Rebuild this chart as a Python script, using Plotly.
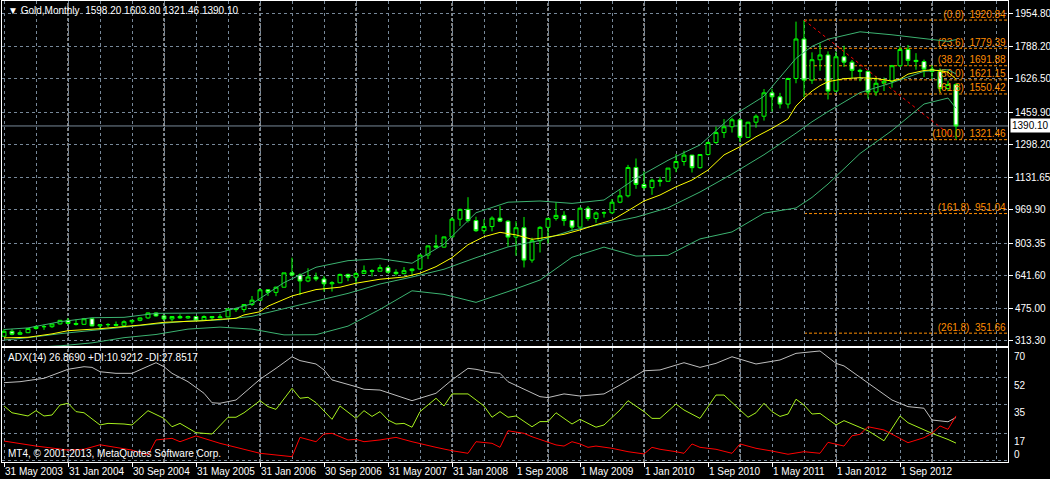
"""
Gold, Monthly - MT4 스타일 캔들 차트 + 볼린저밴드 + ADX(14)
"""

import pandas as pd
import plotly.graph_objects as go
from plotly.subplots import make_subplots

# 월봉 데이터 (May 2003 .. Apr 2013)
opens = [336, 361, 346, 354, 375, 385, 384, 398, 416, 400, 396, 424, 388, 394, 395, 391, 409, 416, 428, 453,
         438, 423, 435, 428, 435, 417, 435, 429, 433, 473, 470, 495, 517, 569, 556, 582, 654, 643, 613, 633,
         623, 599, 604, 646, 632, 651, 665, 662, 680, 657, 650, 665, 673, 743, 789, 783, 834, 923, 972, 916,
         865, 886, 928, 913, 833, 880, 718, 815, 882, 927, 942, 916, 883, 978, 926, 954, 955, 1008, 1040, 1182,
         1097, 1081, 1118, 1113, 1179, 1212, 1244, 1181, 1247, 1307, 1357, 1386, 1421, 1333, 1409, 1439, 1556, 1536, 1500, 1628,
         1826, 1620, 1722, 1746, 1565, 1737, 1710, 1669, 1664, 1560, 1604, 1614, 1692, 1773, 1719, 1713, 1675, 1663, 1578, 1598.20]
highs = [373, 372, 366, 377, 391, 394, 400, 417, 428, 420, 428, 427, 395, 402, 410, 416, 418, 430, 455, 456,
         438, 437, 446, 439, 436, 441, 437, 447, 474, 478, 497, 538, 570, 573, 585, 654, 730, 651, 677, 655,
         639, 612, 650, 650, 657, 691, 672, 695, 690, 672, 683, 676, 745, 790, 845, 836, 933, 976, 1033, 935,
         923, 937, 988, 918, 913, 934, 830, 888, 930, 1007, 963, 918, 981, 989, 961, 962, 1024, 1070, 1195, 1227,
         1162, 1126, 1135, 1179, 1249, 1266, 1245, 1248, 1313, 1387, 1425, 1431, 1424, 1411, 1448, 1575, 1577, 1556, 1632, 1913,
         1920.84, 1759, 1804, 1764, 1763, 1792, 1721, 1677, 1668, 1640, 1633, 1696, 1790, 1796, 1755, 1723, 1694, 1679, 1617, 1603.80]
lows = [336, 341, 342, 352, 369, 368, 378, 395, 397, 390, 393, 386, 372, 383, 386, 391, 398, 411, 423, 434,
        418, 411, 424, 423, 414, 414, 418, 429, 432, 458, 456, 488, 513, 538, 537, 581, 636, 542, 607, 612,
        560, 560, 602, 612, 603, 651, 636, 662, 651, 640, 647, 645, 670, 723, 776, 781, 834, 888, 906, 859,
        849, 862, 908, 786, 740, 681, 705, 756, 801, 916, 890, 865, 881, 915, 905, 931, 948, 1003, 1032, 1075,
        1072, 1045, 1087, 1112, 1158, 1191, 1157, 1176, 1242, 1300, 1330, 1357, 1309, 1330, 1381, 1417, 1462, 1478, 1478, 1604,
        1535, 1601, 1667, 1523, 1562, 1686, 1627, 1614, 1527, 1541, 1565, 1582, 1685, 1691, 1672, 1635, 1626, 1555, 1565, 1321.46]
closes = [361, 346, 354, 375, 385, 384, 398, 416, 400, 396, 424, 388, 394, 395, 391, 409, 416, 428, 453, 438,
          423, 435, 428, 435, 417, 435, 429, 433, 473, 470, 495, 517, 569, 556, 582, 654, 643, 613, 633, 623,
          599, 604, 646, 632, 651, 665, 662, 680, 657, 650, 665, 673, 743, 789, 783, 834, 923, 972, 916, 865,
          886, 928, 913, 833, 880, 718, 815, 882, 927, 942, 916, 883, 978, 926, 954, 955, 1008, 1040, 1182, 1097,
          1081, 1118, 1113, 1179, 1212, 1244, 1181, 1247, 1307, 1357, 1386, 1421, 1333, 1409, 1439, 1556, 1536, 1500, 1628, 1826,
          1620, 1722, 1746, 1565, 1737, 1710, 1669, 1664, 1560, 1604, 1614, 1692, 1773, 1719, 1713, 1675, 1663, 1578, 1598, 1390.10]
bar_idx = list(range(len(closes)))

# 시간축 라벨
date_tick_idx = [0, 8, 16, 24, 32, 40, 48, 56, 64, 72, 80, 88, 96, 104, 112]
date_labels = ["31 May 2003", "31 Jan 2004", "30 Sep 2004", "31 May 2005", "31 Jan 2006",
               "30 Sep 2006", "31 May 2007", "31 Jan 2008", "1 Sep 2008", "1 May 2009",
               "1 Jan 2010", "1 Sep 2010", "1 May 2011", "1 Jan 2012", "1 Sep 2012"]

# 가격축 라벨
price_ticks = [1954.80, 1788.20, 1626.50, 1459.90, 1298.20, 1131.65, 969.90, 803.35, 641.60, 475.00, 313.30]

# 볼린저밴드 (20, 2) - 그림에서 읽은 값
bb_idx = [0, 3, 7, 11, 15, 19, 23, 27, 31, 35, 39, 43, 47, 51, 55, 59, 63, 67, 71, 75,
          79, 83, 87, 91, 95, 99, 101, 103, 107, 111, 115, 118, 119]
bb_upper = [370, 378, 409, 429, 431, 451, 452, 455, 499, 605, 682, 715, 725, 702, 798, 955, 1008, 1014, 1002, 1019,
            1128, 1218, 1295, 1439, 1539, 1729, 1789, 1825, 1862, 1847, 1828, 1814, 1823]
bb_middle = [317, 329, 349, 366, 380, 398, 412, 418, 436, 474, 513, 551, 598, 633, 672, 730, 784, 816, 867, 901,
             933, 980, 1059, 1149, 1246, 1354, 1411, 1462, 1557, 1607, 1664, 1672, 1651]
bb_lower = [264, 280, 288, 303, 329, 345, 372, 382, 372, 343, 344, 387, 471, 564, 546, 506, 560, 618, 732, 783,
            738, 742, 824, 859, 953, 979, 1032, 1099, 1252, 1367, 1500, 1530, 1479]

# 노란 이동평균선
ma_idx = [0, 3, 6, 8, 12, 14, 17, 20, 22, 25, 27, 29, 30, 32, 33, 36, 39, 42, 44, 47,
          50, 52, 54, 56, 58, 60, 62, 64, 66, 67, 70, 72, 74, 76, 78, 80, 82, 84, 86, 88,
          90, 92, 94, 96, 98, 99, 100, 101, 102, 103, 105, 107, 109, 111, 112, 113, 115, 116, 117, 118, 119]
ma_yellow = [328, 331, 348, 364, 374, 381, 392, 406, 409, 414, 421, 426, 443, 459, 487, 538, 570, 582, 602, 622,
             633, 652, 685, 730, 795, 835, 857, 844, 822, 827, 847, 869, 895, 918, 965, 1014, 1044, 1085, 1119, 1169,
             1245, 1286, 1336, 1378, 1425, 1490, 1530, 1565, 1592, 1612, 1627, 1632, 1628, 1615, 1625, 1650, 1668, 1671, 1667, 1660, 1625]

# ADX(14)
adx_idx = [0, 2, 5, 8, 10, 11, 12, 14, 16, 17, 19, 20, 21, 23, 25, 26, 27, 29, 30, 32,
           34, 36, 37, 39, 40, 41, 44, 45, 47, 49, 51, 54, 56, 58, 59, 61, 62, 63, 65, 67,
           68, 70, 72, 75, 77, 80, 82, 85, 87, 89, 91, 94, 97, 99, 102, 104, 105, 108, 111, 113,
           115, 116, 118, 119]
adx_main = [48.5, 49.1, 51.2, 56.8, 58.4, 58.0, 55.3, 54.3, 54.3, 56.4, 60.9, 58.4, 54.3, 49.1, 41.9, 36.0, 35.7, 37.7, 41.9, 50.6,
            57.4, 64.6, 62.2, 60.1, 56.4, 50.2, 46.0, 44.4, 43.9, 40.8, 37.3, 41.9, 50.2, 57.4, 56.8, 54.7, 54.3, 49.1, 44.4, 39.8,
            39.2, 41.5, 40.2, 41.5, 47.0, 55.9, 56.4, 60.9, 58.0, 60.5, 64.6, 60.1, 62.6, 66.7, 68.2, 60.5, 58.9, 48.1, 37.7, 33.6,
            32.6, 25.3, 24.2, 26.869]
pdi_idx = [0, 1, 3, 4, 5, 6, 7, 8, 9, 10, 12, 13, 15, 16, 18, 20, 21, 22, 24, 26,
           28, 29, 30, 32, 33, 34, 36, 37, 38, 39, 41, 42, 44, 45, 46, 47, 48, 49, 50, 51,
           52, 54, 55, 56, 58, 60, 61, 62, 63, 64, 66, 67, 68, 69, 71, 72, 74, 75, 77, 78,
           80, 81, 82, 84, 85, 87, 89, 90, 92, 93, 94, 95, 96, 97, 98, 99, 100, 101, 102, 104,
           105, 108, 110, 112, 113, 116, 118, 119]
pdi_line = [34.0, 29.8, 27.8, 31.1, 27.8, 28.4, 34.6, 35.7, 30.5, 29.8, 22.2, 23.2, 22.8, 22.2, 31.1, 26.3, 21.1, 23.2, 17.4, 16.6,
            27.0, 27.0, 29.8, 37.3, 33.6, 31.9, 45.0, 38.8, 39.4, 36.1, 25.7, 34.0, 26.3, 31.1, 27.5, 30.5, 25.3, 22.8, 23.2, 20.8,
            30.5, 38.8, 34.0, 41.5, 41.5, 34.0, 27.0, 30.5, 27.0, 27.8, 21.1, 24.3, 24.3, 29.8, 22.8, 25.7, 20.8, 22.2, 31.5, 37.3,
            30.5, 26.3, 26.3, 35.2, 31.5, 26.3, 40.8, 40.8, 31.5, 27.0, 29.8, 35.7, 30.5, 27.5, 29.0, 38.2, 34.6, 29.0, 29.4, 22.2,
            24.9, 18.6, 12.4, 27.8, 23.6, 17.0, 13.2, 10.9212]
mdi_idx = [0, 4, 8, 10, 12, 14, 16, 18, 19, 21, 22, 24, 27, 32, 36, 37, 39, 40, 41, 43,
           44, 45, 47, 49, 51, 54, 56, 58, 59, 61, 62, 63, 65, 66, 68, 69, 70, 71, 72, 73,
           74, 76, 78, 80, 81, 82, 84, 85, 86, 87, 89, 91, 92, 94, 96, 98, 100, 101, 102, 103,
           104, 105, 106, 107, 108, 110, 113, 115, 116, 117, 118, 119]
mdi_line = [12.2, 9.1, 6.6, 7.1, 9.9, 8.3, 6.6, 3.5, 12.9, 13.9, 11.8, 15.4, 10.8, 4.6, 2.5, 14.5, 11.8, 16.6, 17.0, 12.9,
            13.3, 11.8, 12.9, 14.5, 11.8, 8.3, 6.2, 4.6, 11.8, 10.8, 8.3, 18.6, 17.0, 14.9, 11.8, 9.8, 9.1, 11.8, 10.4, 8.3,
            9.1, 7.7, 5.6, 4.2, 8.3, 7.1, 5.6, 4.6, 10.4, 8.3, 7.1, 4.6, 10.4, 7.7, 6.0, 4.0, 5.6, 5.0, 4.6, 11.4,
            10.2, 9.1, 15.5, 16.4, 21.1, 19.1, 11.2, 14.3, 17.0, 21.6, 19.5, 27.8517]
adx_ticks = [70, 52, 35, 17, 0]
adx_header = "ADX(14) 26.8690 +DI:10.9212 -DI:27.8517"

# 피보나치 되돌림
fib_levels = ["0.0", "23.6", "38.2", "50.0", "61.8", "100.0", "161.8", "261.8"]
fib_prices = [1920.84, 1779.39, 1691.88, 1621.15, 1550.42, 1321.46, 951.04, 351.66]
fib_from_idx = 100
fib_to_idx = 119

# 색상
BG = "black"
GRID = "#778899"
BAR = "#00FF00"
BB = "#3CB371"
FIB = "#FF8C00"
FONT = "Liberation Sans, Arial, sans-serif"

# 픽셀 기준 배치 (1050x479)
W, H = 1050, 479
L, R, T, B = 2, 42, 1, 17
PW, PH = W - L - R, H - T - B


def px_x(px):
    return (px - L) / PW


def px_y(py):
    return (H - B - py) / PH


x_range = [-0.25, 125.5]
price_range = [287.3, 2016.4]
adx_range = [-0.81, 70.04]

fig = make_subplots(rows=2, cols=1, shared_xaxes=True, vertical_spacing=0)

# 피보나치 라벨 (캔들 아래)
fig.add_trace(go.Scatter(
    x=[x_range[1] - 0.3] * len(fib_prices), y=fib_prices,
    mode="text", text=[f"({lv})  {p:.2f}" for lv, p in zip(fib_levels, fib_prices)],
    textposition="top left", textfont=dict(color=FIB, size=10, family=FONT),
    cliponaxis=False, hoverinfo="skip", showlegend=False), row=1, col=1)

# 피보나치 추세선 (빨간 점선)
fig.add_trace(go.Scatter(
    x=[fib_from_idx, fib_to_idx], y=[fib_prices[0], fib_prices[5]],
    mode="lines", line=dict(color="red", width=1, dash="dot"),
    hoverinfo="skip", showlegend=False), row=1, col=1)

# 캔들
fig.add_trace(go.Candlestick(
    x=bar_idx, open=opens, high=highs, low=lows, close=closes,
    increasing=dict(line=dict(color=BAR, width=1), fillcolor="black"),
    decreasing=dict(line=dict(color=BAR, width=1), fillcolor="white"),
    whiskerwidth=0, hoverinfo="skip", showlegend=False), row=1, col=1)

# 볼린저밴드 + 이동평균
for yy in (bb_upper, bb_middle, bb_lower):
    fig.add_trace(go.Scatter(x=bb_idx, y=yy, mode="lines", line=dict(color=BB, width=1),
                             hoverinfo="skip", showlegend=False), row=1, col=1)
fig.add_trace(go.Scatter(x=ma_idx, y=ma_yellow, mode="lines", line=dict(color="yellow", width=1),
                         hoverinfo="skip", showlegend=False), row=1, col=1)

# ADX 패널
fig.add_trace(go.Scatter(x=adx_idx, y=adx_main, mode="lines", line=dict(color="#BEBEBE", width=1),
                         hoverinfo="skip", showlegend=False), row=2, col=1)
fig.add_trace(go.Scatter(x=pdi_idx, y=pdi_line, mode="lines", line=dict(color="#A6F01E", width=1),
                         hoverinfo="skip", showlegend=False), row=2, col=1)
fig.add_trace(go.Scatter(x=mdi_idx, y=mdi_line, mode="lines", line=dict(color="red", width=1),
                         hoverinfo="skip", showlegend=False), row=2, col=1)

# 피보나치 수평선
for p in fib_prices:
    fig.add_shape(type="line", xref="x", yref="y", x0=fib_from_idx, x1=x_range[1], y0=p, y1=p,
                  line=dict(color=FIB, width=1, dash="3px,2px"), layer="below")

# 현재가 라인
fig.add_shape(type="line", xref="x domain", yref="y", x0=0, x1=1, y0=closes[-1], y1=closes[-1],
              line=dict(color=GRID, width=1), layer="below")

# 연도 구분선 (1월)
months = pd.period_range("2003-05", periods=len(closes), freq="M")
for i, m in enumerate(months):
    if m.month == 1:
        for yr in ("y domain", "y2 domain"):
            fig.add_shape(type="line", xref="x", yref=yr, x0=i, x1=i, y0=0, y1=1,
                          line=dict(color="white", width=1, dash="3px,2px"), layer="below")

axis_font = dict(family=FONT, size=10, color="white")
grid_common = dict(showgrid=True, gridcolor=GRID, griddash="3px,3px", gridwidth=1,
                   showline=True, mirror=True, linecolor="white", linewidth=1,
                   zeroline=False, automargin=False)

fig.update_xaxes(range=x_range, tickmode="array", tickvals=date_tick_idx, ticktext=date_labels,
                 minor=dict(tick0=0, dtick=4, showgrid=True, gridcolor=GRID, griddash="3px,3px"),
                 rangeslider_visible=False, **grid_common)
fig.update_xaxes(showticklabels=False, ticks="", row=1, col=1)
fig.update_xaxes(showticklabels=True, ticks="outside", ticklen=4, tickcolor="white", tickangle=0,
                 ticklabelposition="outside right", tickfont=axis_font, row=2, col=1)

fig.update_yaxes(range=price_range, side="right", tickmode="array", tickvals=price_ticks,
                 ticktext=[f"{v:.2f}" for v in price_ticks], ticks="outside", ticklen=4,
                 tickcolor="white", tickfont=axis_font, domain=[px_y(346), 1.0],
                 **grid_common, row=1, col=1)
fig.update_yaxes(range=adx_range, side="right", tickmode="array", tickvals=adx_ticks,
                 showticklabels=False, ticks="", domain=[0.0, px_y(348)],
                 **grid_common, row=2, col=1)

annotations = [
    dict(x=px_x(6), y=px_y(11), xref="paper", yref="paper", xanchor="left", yanchor="middle",
         text=f"\u25BC Gold,Monthly  {opens[-1]:.2f} {highs[-1]:.2f} {lows[-1]:.2f} {closes[-1]:.2f}",
         showarrow=False, font=axis_font),
    dict(x=px_x(6), y=px_y(357), xref="paper", yref="paper", xanchor="left", yanchor="middle",
         text=adx_header, showarrow=False, font=axis_font),
    dict(x=px_x(6), y=px_y(453), xref="paper", yref="paper", xanchor="left", yanchor="middle",
         text="MT4, \u00A9 2001-2013, MetaQuotes Software Corp.", showarrow=False, font=axis_font),
    dict(x=1.0, y=closes[-1], xref="paper", yref="y", xanchor="left", yanchor="middle", xshift=2,
         text=f"{closes[-1]:.2f}", showarrow=False, bgcolor="white", borderpad=1,
         font=dict(family=FONT, size=10, color="black")),
]
for v in adx_ticks:
    annotations.append(dict(x=1.0, y=v, xref="paper", yref="y2", xanchor="left", yanchor="middle",
                            xshift=4, yshift=-8 if v > 0 else 6, text=str(v), showarrow=False,
                            font=axis_font))

fig.update_layout(
    width=W, height=H,
    margin=dict(l=L, r=R, t=T, b=B),
    paper_bgcolor=BG, plot_bgcolor=BG,
    font=axis_font,
    boxgap=0.3,
    showlegend=False,
    annotations=annotations,
)

# 페이지 기본 여백 제거
fig.write_html("out.html", config={"displayModeBar": False},
               post_script="document.body.style.margin='0';document.body.style.background='black';")
